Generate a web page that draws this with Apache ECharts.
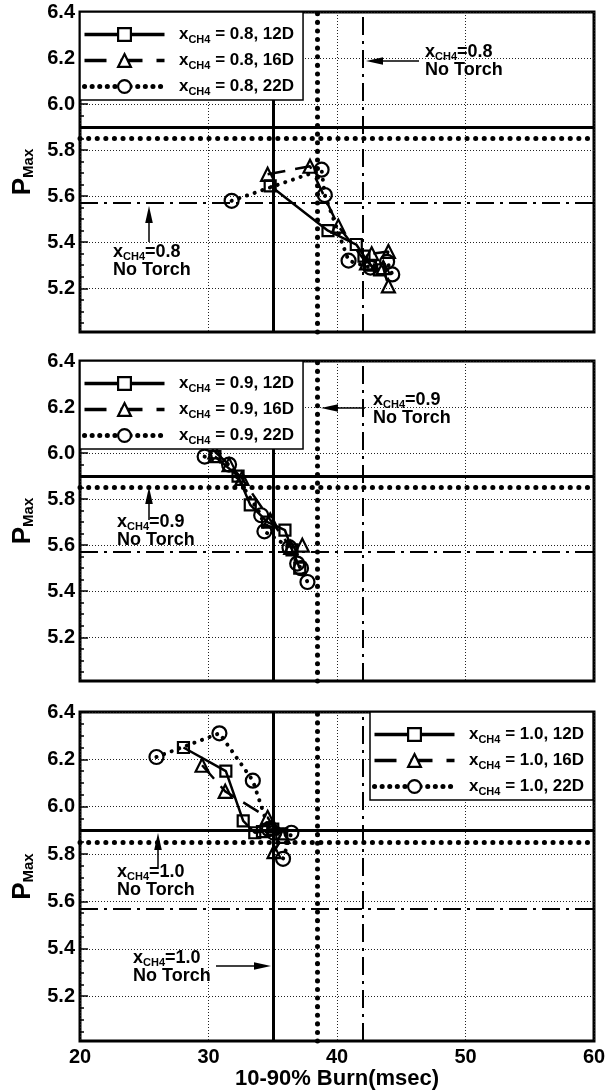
<!DOCTYPE html>
<html><head><meta charset="utf-8">
<script src="https://cdn.jsdelivr.net/npm/echarts@6/dist/echarts.min.js"></script>
<style>html,body{margin:0;padding:0;background:#fff}#c{width:615px;height:1091px}</style>
</head><body><div id="c"></div>
<script>
// ---------- data ----------
const xTicks = [20, 30, 40, 50, 60];
const yTicks = [5.2, 5.4, 5.6, 5.8, 6.0, 6.2, 6.4];
const yMinorTicks = [5.05, 5.1, 5.15, 5.25, 5.3, 5.35, 5.45, 5.5, 5.55, 5.65, 5.7, 5.75,
                     5.85, 5.9, 5.95, 6.05, 6.1, 6.15, 6.25, 6.3, 6.35];
const xMin = 20, xMax = 60, yMin = 5.01, yMax = 6.4;
const fractions = ['0.8', '0.9', '1.0'];
const positions = ['12D', '16D', '22D'];

// x_CH4 = 0.8
const x08_12D = [34.8, 39.3, 41.5, 42.1, 42.6, 43.3];
const y08_12D = [5.645, 5.45, 5.39, 5.34, 5.30, 5.28];
const x08_16D = [34.6, 37.9, 40.1, 42.3, 42.7, 44.0, 43.6, 44.0];
const y08_16D = [5.695, 5.73, 5.47, 5.31, 5.35, 5.36, 5.29, 5.21];
const x08_22D = [31.8, 38.8, 39.05, 40.9, 42.6, 43.9, 44.3];
const y08_22D = [5.58, 5.715, 5.605, 5.32, 5.29, 5.315, 5.26];
// x_CH4 = 0.9
const x09_12D = [30.5, 32.3, 33.25, 34.6, 35.95, 36.5, 37.1];
const y09_12D = [5.985, 5.90, 5.775, 5.70, 5.665, 5.58, 5.50];
const x09_16D = [30.5, 31.6, 32.6, 34.8, 36.4, 37.3];
const y09_16D = [6.005, 5.95, 5.89, 5.71, 5.59, 5.60];
const x09_22D = [29.7, 31.6, 34.1, 34.35, 36.3, 36.9, 37.2, 37.7];
const y09_22D = [5.985, 5.95, 5.73, 5.66, 5.59, 5.52, 5.50, 5.44];
// x_CH4 = 1.0
const x10_12D = [28.05, 31.35, 32.7, 33.6, 34.2, 35.0, 35.7];
const y10_12D = [6.25, 6.15, 5.94, 5.89, 5.895, 5.905, 5.885];
const x10_16D = [29.5, 31.3, 34.6, 35.0, 35.1, 35.8];
const y10_16D = [6.175, 6.065, 5.955, 5.92, 5.81, 5.875];
const x10_22D = [25.95, 30.85, 33.45, 34.7, 35.1, 36.45, 35.8];
const y10_22D = [6.21, 6.31, 6.11, 5.905, 5.89, 5.89, 5.78];

// No-torch reference values (solid: 1.0, dotted: 0.9, dash-dot: 0.8)
const refBurn = [35, 38.5, 42];
const refPmax = [5.9, 5.85, 5.57];

const panelData = [
  [[x08_12D, y08_12D], [x08_16D, y08_16D], [x08_22D, y08_22D]],
  [[x09_12D, y09_12D], [x09_16D, y09_16D], [x09_22D, y09_22D]],
  [[x10_12D, y10_12D], [x10_16D, y10_16D], [x10_22D, y10_22D]]
];

// ---------- styles / layout ----------
const FONT = "'Liberation Sans', Arial, Helvetica, sans-serif";
const grids = [
  {left: 80, right: 21, top: 12, height: 320},
  {left: 80, right: 21, top: 361, height: 320},
  {left: 80, right: 21, top: 712, height: 331}
];
const seriesStyle = [
  {symbol: 'rect', symbolSize: 11, lineStyle: {type: 'solid', width: 2.5}},
  {symbol: 'triangle', symbolSize: 13, lineStyle: {type: [18, 10], width: 2.5}},
  {symbol: 'circle', symbolSize: 14, lineStyle: {type: [0.1, 8], width: 4, cap: 'round'}}
];
const legendLine = [
  {type: 'solid', width: 3.5},
  {type: [22, 14], width: 3.5},
  {type: [0.1, 7.5], width: 5, cap: 'round'}
];
const refStyles = [
  {type: 'solid', width: 3},
  {type: [0.1, 8.5], width: 5, cap: 'round'},
  {type: [18, 6, 3, 6], width: 2}
];
const gridLine = {show: true, lineStyle: {color: '#222', width: 1, type: [1, 2]}};
const subRich = {
  x: {fontFamily: FONT, fontWeight: 'bold', fontSize: 17, color: '#000', lineHeight: 16},
  s: {fontFamily: FONT, fontWeight: 'bold', fontSize: 11, color: '#000', lineHeight: 16, padding: [10, 0, 0, 0]},
  t: {fontFamily: FONT, fontWeight: 'bold', fontSize: 17, color: '#000', lineHeight: 16}
};

const xAxes = [], yAxes = [], series = [], legends = [];
for (let p = 0; p < 3; p++) {
  xAxes.push({
    gridIndex: p, type: 'value', min: xMin, max: xMax, interval: 10,
    axisLine: {show: false}, axisTick: {show: false},
    axisLabel: {show: p === 2, color: '#000', fontFamily: FONT, fontWeight: 'bold', fontSize: 20, margin: 6},
    splitLine: gridLine,
    name: p === 2 ? '10-90% Burn(msec)' : '', nameLocation: 'middle', nameGap: 24,
    nameTextStyle: {color: '#000', fontFamily: FONT, fontWeight: 'bold', fontSize: 22}
  });
  yAxes.push({
    gridIndex: p, type: 'value', min: yMin, max: yMax, position: 'left',
    axisLine: {show: false},
    axisTick: {show: true, inside: true, length: 8, customValues: yTicks, lineStyle: {color: '#000', width: 1.5}},
    axisLabel: {customValues: yTicks, formatter: v => v.toFixed(1), color: '#000', fontFamily: FONT, fontWeight: 'bold', fontSize: 20, margin: 5},
    splitLine: gridLine,
    name: '{p|P}{s|Max}', nameLocation: 'middle', nameRotate: 90, nameGap: 37,
    nameTextStyle: {rich: {
      p: {fontFamily: FONT, fontWeight: 'bold', fontSize: 26, color: '#000'},
      s: {fontFamily: FONT, fontWeight: 'bold', fontSize: 15, color: '#000', padding: [12, 0, 0, 0]}
    }}
  });
  yAxes.push({
    gridIndex: p, type: 'value', min: yMin, max: yMax, position: 'left', offset: 0,
    axisLine: {show: false}, axisLabel: {show: false}, splitLine: {show: false},
    axisTick: {show: true, inside: true, length: 4, customValues: yMinorTicks, lineStyle: {color: '#000', width: 1.5}}
  });
  // reference lines
  series.push({
    type: 'line', name: 'ref' + p, xAxisIndex: p, yAxisIndex: 2 * p, data: [], silent: true, z: 1,
    markLine: {
      silent: true, symbol: ['none', 'none'], label: {show: false}, animation: false,
      data: [0, 1, 2].map(i => ({xAxis: refBurn[i], lineStyle: Object.assign({color: '#000'}, refStyles[i])}))
        .concat([0, 1, 2].map(i => ({yAxis: refPmax[i], lineStyle: Object.assign({color: '#000'}, refStyles[i])})))
    }
  });
  const legendItems = [];
  for (let s = 0; s < 3; s++) {
    const [xs, ys] = panelData[p][s];
    const name = fractions[p] + ', ' + positions[s];
    legendItems.push({
      name,
      lineStyle: Object.assign({color: '#000'}, legendLine[s]),
      itemStyle: {color: '#fff', borderColor: '#000', borderWidth: 2.2}
    });
    series.push({
      type: 'line', name, xAxisIndex: p, yAxisIndex: 2 * p, z: 3,
      data: xs.map((x, i) => [x, ys[i]]),
      symbol: seriesStyle[s].symbol, symbolSize: seriesStyle[s].symbolSize,
      showAllSymbol: true, animation: false,
      lineStyle: Object.assign({color: '#000'}, seriesStyle[s].lineStyle),
      itemStyle: {color: 'rgba(255,255,255,0)', borderColor: '#000', borderWidth: 2.2}
    });
  }
  legends.push({
    orient: 'vertical', left: p === 2 ? 370 : 80, top: grids[p].top, data: legendItems,
    itemWidth: 80, itemHeight: 16, itemGap: 5, padding: [12, 9, 3, 2],
    backgroundColor: '#fff', borderColor: '#000', borderWidth: 1.5, selectedMode: false, z: 10,
    textStyle: {rich: subRich},
    formatter: n => '{x|  x}{s|CH4}{t| = ' + n + '}'
  });
}

// ---------- annotations ----------
const annRich = {
  x: {fontFamily: FONT, fontWeight: 'bold', fontSize: 18, fill: '#000', lineHeight: 18},
  s: {fontFamily: FONT, fontWeight: 'bold', fontSize: 11, fill: '#000', lineHeight: 18, padding: [10, 0, 0, 0]},
  t: {fontFamily: FONT, fontWeight: 'bold', fontSize: 18, fill: '#000', lineHeight: 18}
};
function note(x, y, frac) {
  return {type: 'text', x, y, z: 20, style: {text: '{x|x}{s|CH4}{t|=' + frac + '}\n{t|No Torch}', rich: annRich, verticalAlign: 'top', align: 'left'}};
}
function arrow(x1, y1, x2, y2) {
  const dx = x2 - x1, dy = y2 - y1, L = Math.hypot(dx, dy), ux = dx / L, uy = dy / L, hl = 17, hw = 3.8;
  const bx = x2 - ux * hl, by = y2 - uy * hl;
  return [
    {type: 'line', z: 20, shape: {x1, y1, x2: bx, y2: by}, style: {stroke: '#000', lineWidth: 1.5}},
    {type: 'polygon', z: 20, shape: {points: [[x2, y2], [bx - uy * hw, by + ux * hw], [bx + uy * hw, by - ux * hw]]}, style: {fill: '#000'}}
  ];
}
const graphics = [
  note(425, 43, '0.8'), ...arrow(419, 61, 366, 61),
  note(113, 243, '0.8'), ...arrow(149, 242, 149, 206),
  note(373, 391, '0.9'), ...arrow(365, 408, 321, 408),
  note(117, 513, '0.9'), ...arrow(149, 520, 149, 487),
  note(117, 863, '1.0'), ...arrow(158, 867, 158, 833),
  note(133, 949, '1.0'), ...arrow(216, 966, 271, 966)
];

const chart = echarts.init(document.getElementById('c'), null, {renderer: 'canvas'});
chart.setOption({
  backgroundColor: '#fff',
  animation: false,
  grid: grids.map(g => Object.assign({show: true, borderColor: '#000', borderWidth: 3, backgroundColor: 'transparent'}, g)),
  xAxis: xAxes, yAxis: yAxes, series, legend: legends, graphic: graphics
});
</script></body></html>
